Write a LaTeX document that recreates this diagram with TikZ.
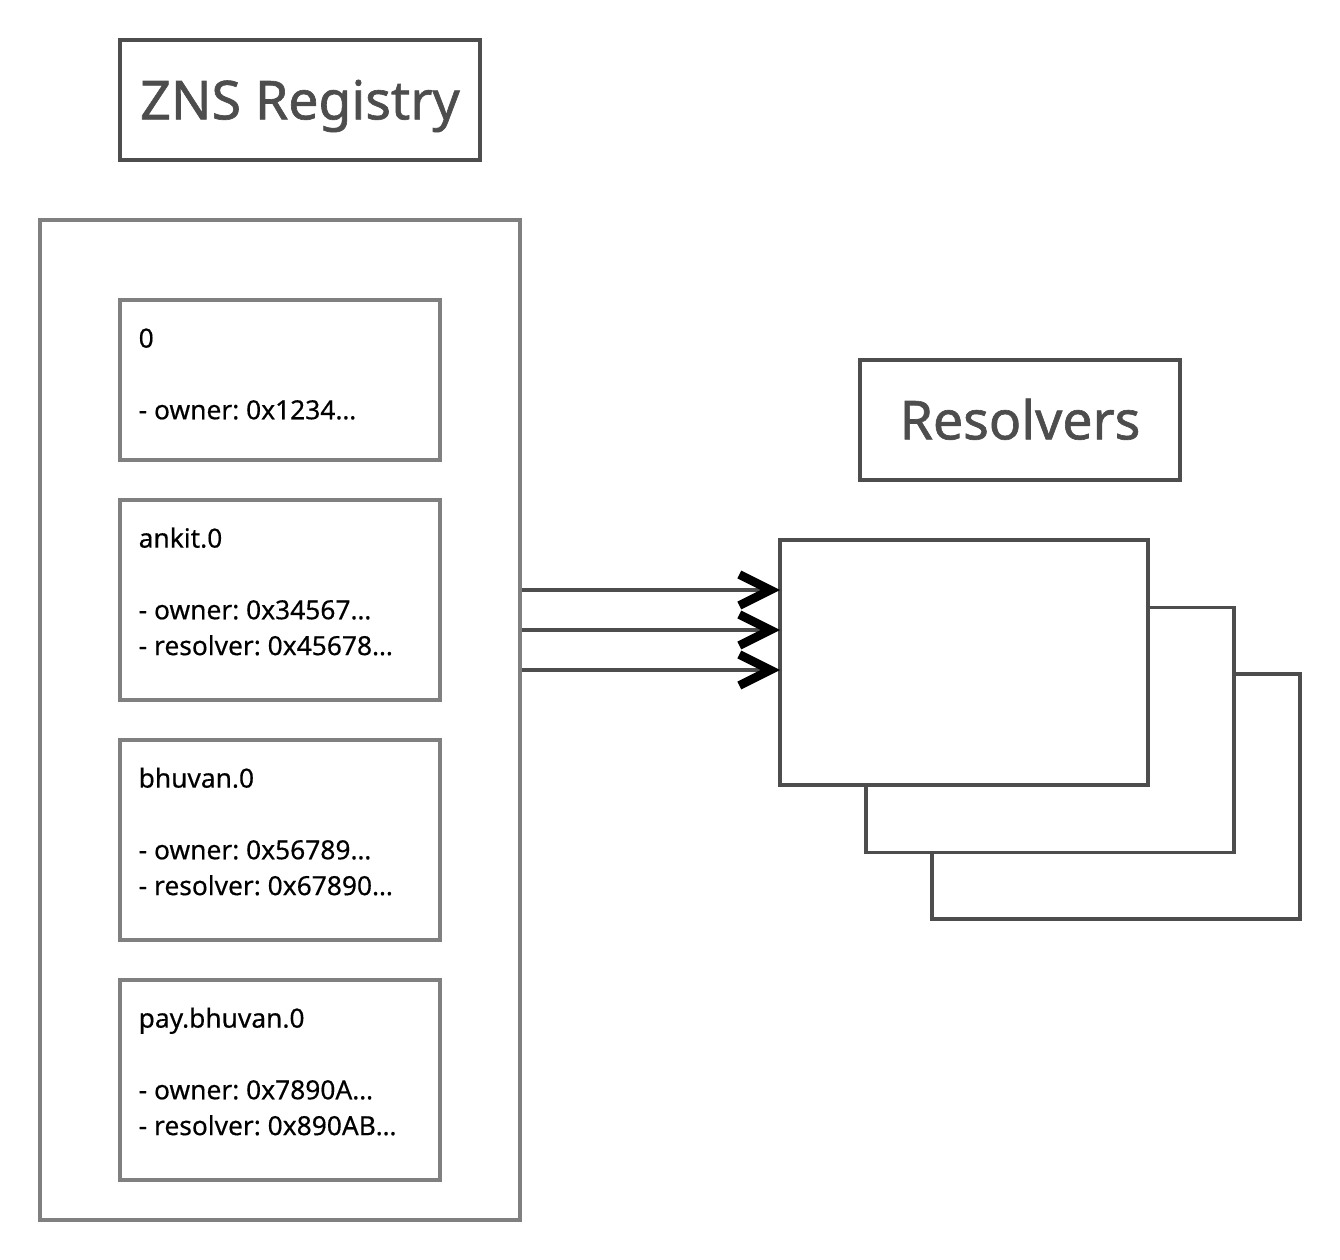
\documentclass[tikz,border=0pt]{standalone}
\usepackage{fontspec}
\setmainfont{Noto Sans}
\newfontfamily\titlefont[FakeBold=1.2]{Noto Sans}
\newfontfamily\entryfont[FakeBold=0.4]{Noto Sans}
\usetikzlibrary{arrows.meta}
\definecolor{darkline}{HTML}{4D4D4D}
\definecolor{lightline}{HTML}{808080}
\tikzset{
  title/.style={draw=darkline, line width=1.9pt, text=darkline, minimum height=2.4cm,
    font=\titlefont\fontsize{30.5pt}{36pt}\selectfont, text height=22pt, text depth=0pt},
  entry/.style={draw=lightline, line width=1.9pt, minimum width=6.4cm},
  entrytext/.style={anchor=north west, inner sep=0pt, align=left,
    font=\entryfont\fontsize{15pt}{20.4pt}\selectfont\frenchspacing},
  resolverbox/.style={draw=darkline, line width=1.9pt, fill=white, minimum width=7.36cm, minimum height=4.9cm},
  link/.style={darkline, line width=1.9pt,
    -{Straight Barb[length=0.62cm, width=0.62cm, line width=0pt 2.6, black]}}
}
\newcommand{\gap}{\\[20.4pt]}
\begin{document}
\begin{tikzpicture}[x=0.02cm, y=-0.02cm]
\useasboundingbox (0,0) rectangle (1340,1260);

% registry side
\node [title, minimum width=7.2cm] (zns) at (300,100) {ZNS Registry};
\node [draw=lightline, line width=1.9pt, minimum width=9.6cm, minimum height=20cm] (reg) at (280,720) {};

\node [entry, minimum height=3.2cm] (e0) at (280,380) {};
\node [entry, minimum height=4cm] (e1) at (280,600) {};
\node [entry, minimum height=4cm] (e2) at (280,840) {};
\node [entry, minimum height=4cm] (e3) at (280,1080) {};

\node [entrytext] (t0) at ([shift={(0.4cm,-0.476cm)}]e0.north west) {\strut 0\gap- owner: 0x1234…};
\node [entrytext] (t1) at ([shift={(0.4cm,-0.476cm)}]e1.north west) {\strut ankit.0\gap- owner: 0x34567…\\- resolver: 0x45678…};
\node [entrytext] (t2) at ([shift={(0.4cm,-0.476cm)}]e2.north west) {\strut bhuvan.0\gap- owner: 0x56789…\\- resolver: 0x67890…};
\node [entrytext] (t3) at ([shift={(0.4cm,-0.476cm)}]e3.north west) {\strut pay.bhuvan.0\gap- owner: 0x7890A…\\- resolver: 0x890AB…};

% resolvers
\node [title, minimum width=6.4cm] (resolvers) at (1020,420) {Resolvers};
\node [resolverbox] (res3) at (1116,796.5) {};
\node [resolverbox] (res2) at (1050,730) {};
\node [resolverbox] (res1) at (964,662.5) {};

\coordinate (in1) at (780,590);
\coordinate (in2) at (780,630);
\coordinate (in3) at (780,670);
\foreach \i in {1,2,3}
  \draw [link] (in\i -| reg.east) -- (in\i);
\end{tikzpicture}
\end{document}
